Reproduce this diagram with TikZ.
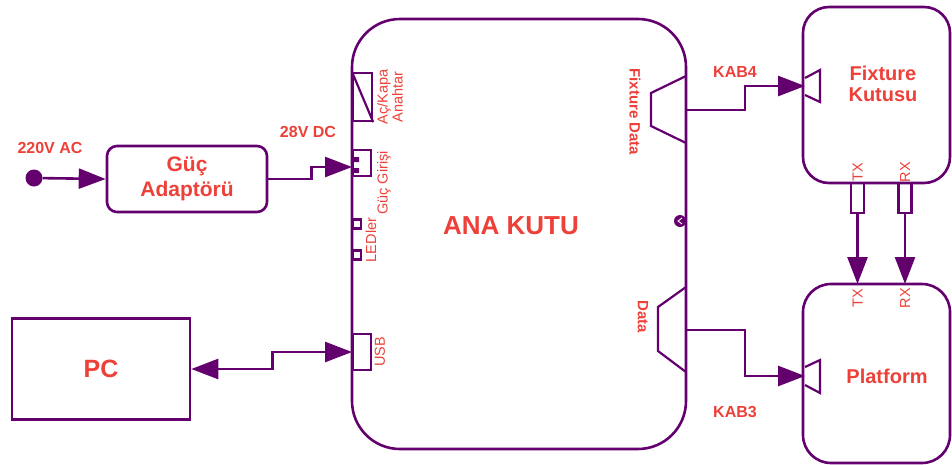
\documentclass[tikz,border=0pt]{standalone}
\usepackage{fontspec}
\setmainfont{Liberation Sans}
\definecolor{dgpurple}{RGB}{100,0,110}
\definecolor{dgred}{RGB}{237,64,56}
\usetikzlibrary{arrows.meta}

\begin{document}
\begin{tikzpicture}[x=1pt,y=-1pt,
  blk/.style={draw=dgpurple,line width=2.6pt,inner sep=0pt},
  port/.style={draw=dgpurple,line width=2.2pt,inner sep=0pt,anchor=west},
  big/.style={text=dgred,font=\fontsize{20}{23}\selectfont\bfseries,align=center},
  tag/.style={text=dgred,font=\fontsize{16}{18}\selectfont\bfseries},
  side/.style={text=dgred,font=\fontsize{14.5}{15}\selectfont,align=center},
  wire/.style={dgpurple,line width=2.6pt,-{Triangle[length=27pt,width=20pt]}},
  dwire/.style={dgpurple,line width=2.6pt,{Triangle[length=27pt,width=20pt]}-{Triangle[length=27pt,width=20pt]}}]
  \useasboundingbox (0,0) rectangle (952,464);
  % boxes
  \node[blk,rounded corners=48pt,minimum width=334pt,minimum height=430pt] (ana) at (519,234) {};
  \node[big,font=\fontsize{26}{30}\selectfont\bfseries] at (511,226) {ANA KUTU};
  \node[blk,rounded corners=26pt,minimum width=147pt,minimum height=176pt] (fix) at (876.5,95) {};
  \node[big] at (883,84) {Fixture\\[-2pt]Kutusu};
  \node[blk,rounded corners=28pt,minimum width=147pt,minimum height=179pt] (plt) at (876.5,373.5) {};
  \node[big] at (887,376) {Platform};
  \node[blk,minimum width=178pt,minimum height=101pt,big,font=\fontsize{25}{28}\selectfont\bfseries] (pc) at (101,369) {PC};
  \node[blk,rounded corners=10pt,minimum width=160pt,minimum height=66pt,big,font=\fontsize{21}{25}\selectfont\bfseries] (adp) at (187,179) {Güç\\Adaptörü};
  \node[circle,fill=dgpurple,minimum size=17pt,inner sep=0pt] (src) at (34,178) {};
  % ports on ANA KUTU
  \node[port,minimum width=19pt,minimum height=48pt] (sw) at (352,97) {};
  \draw[dgpurple,line width=2.2pt] (sw.north west) -- (sw.south east);
  \node[port,minimum width=18pt,minimum height=26pt] (gin) at (352,163) {};
  \fill[dgpurple] (354,157) rectangle (359,162) (354,168) rectangle (359,173);
  \node[port,minimum width=8pt,minimum height=9pt] (led1) at (352,224) {};
  \node[port,minimum width=8pt,minimum height=9pt] (led2) at (352,255) {};
  \node[port,minimum width=18pt,minimum height=36pt] (usb) at (352,352) {};
  \draw[dgpurple,line width=2.2pt] (686,76) -- (651,93) -- (651,126) -- (686,143);
  \draw[dgpurple,line width=2.2pt] (686,287) -- (658,307) -- (658,351) -- (686,372);
  \draw[dgpurple,line width=2.2pt] (805,78) -- (820,70) -- (820,102) -- (805,95);
  \draw[dgpurple,line width=2.2pt] (805,367) -- (820,360) -- (820,393) -- (805,385);
  \fill[dgpurple] (680,221) circle (6);
  \draw[white,line width=0.9pt] (682,218) -- (678,221) -- (682,224);
  \node[port,anchor=center,minimum width=13pt,minimum height=30pt] (txA) at (857.5,198) {};
  \node[port,anchor=center,minimum width=13pt,minimum height=30pt] (rxA) at (905,198) {};
  \coordinate (ginIn) at (352,167);
  \coordinate (fdOut) at (686,110);
  \coordinate (dOut) at (686,330);
  \coordinate (fixIn) at (805,86);
  \coordinate (pltIn) at (805,376);
  \coordinate (txB) at (857.5,284);
  \coordinate (rxB) at (905,284);
  % connectors
  \draw[wire] (src) -- (adp.west);
  \draw[wire] (adp.east) -- ++(43,0) |- (ginIn);
  \draw[dwire] (pc.east) -- ++(81,0) |- (usb.west);
  \draw[wire] (fdOut) -- ++(59,0) |- (fixIn);
  \draw[wire] (dOut) -- ++(59,0) |- (pltIn);
  \draw[wire] (txA.south) -- (txB);
  \draw[wire] (rxA.south) -- (rxB);
  % labels
  \node[tag] at (50,148) {220V AC};
  \node[tag] at (308,132) {28V DC};
  \node[tag] at (735,72) {KAB4};
  \node[tag] at (735,412) {KAB3};
  \node[side,rotate=90] at (390,97) {Aç/Kapa\\Anahtar};
  \node[side,rotate=90] at (384,183) {Güç Girişi};
  \node[side,rotate=90] at (371,240) {LEDler};
  \node[side,rotate=90] at (380,352) {USB};
  \node[side,rotate=-90,font=\fontsize{15}{16}\selectfont\bfseries] at (635,112) {Fixture Data};
  \node[side,rotate=-90,font=\fontsize{15}{16}\selectfont\bfseries] at (643,317) {Data};
  \node[side,rotate=90] at (857.5,172) {TX};
  \node[side,rotate=90] at (905,172) {RX};
  \node[side,rotate=90] at (857.5,298) {TX};
  \node[side,rotate=90] at (905,298) {RX};
\end{tikzpicture}
\end{document}
